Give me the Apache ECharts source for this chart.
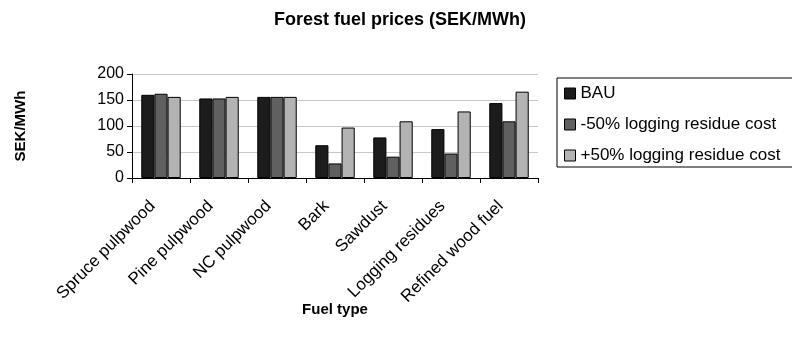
<!DOCTYPE html>
<html><head><meta charset="utf-8">
<script src="https://cdn.jsdelivr.net/npm/echarts@6/dist/echarts.min.js"></script>
<style>html,body{margin:0;padding:0;background:#fff}#c{width:792px;height:347px}</style>
</head><body><div id="c"></div>
<script>
const categories = ["Spruce pulpwood","Pine pulpwood","NC pulpwood","Bark","Sawdust","Logging residues","Refined wood fuel"];
const seriesNames = ["BAU","-50% logging residue cost","+50% logging residue cost"];
const bau = [160,153,156,63,78,94,144];
const minus50 = [162,153,156,28,41,47,109];
const plus50 = [156,156,156,97,109,128,166];
const yTicks = [0,50,100,150,200];

const colors = ["#1c1c1c","#606060","#b3b3b3"];
const font = "'Liberation Sans', Arial, sans-serif";
const chart = echarts.init(document.getElementById('c'));
const mk = (name, data, i) => ({
  name, type:'bar', data, barGap:'0%', barCategoryGap:'32%',
  itemStyle:{color:colors[i], borderColor:'#000', borderWidth:1},
  animation:false
});
chart.setOption({
  animation:false,
  title:{text:'Forest fuel prices (SEK/MWh)', left:395, top:6,
    textAlign:'center',
    textStyle:{fontFamily:font, fontSize:18, fontWeight:'bold', color:'#000'}},
  legend:{orient:'vertical', left:557, top:78, width:260,
    data:seriesNames, itemWidth:11, itemHeight:11, itemGap:14,
    icon:'rect', padding:[7,40,3,7],
    borderColor:'#000', borderWidth:1,
    textStyle:{fontFamily:font, fontSize:17, color:'#000', padding:[0,0,0,0]},
    itemStyle:{borderColor:'#000', borderWidth:1}},
  grid:{left:132, right:254, top:74, bottom:169},
  xAxis:{type:'category', data:categories,
    name:'Fuel type', nameLocation:'middle', nameGap:124, nameMoveOverlap:false,
    nameTextStyle:{fontFamily:font, fontSize:15, fontWeight:'bold', color:'#000'},
    axisLine:{lineStyle:{color:'#000'}},
    axisTick:{show:true, length:5, lineStyle:{color:'#000'}, alignWithLabel:false},
    axisLabel:{rotate:45, fontFamily:font, fontSize:17, color:'#000', margin:17, interval:0,
      padding:[0,12,0,0]}},
  yAxis:{type:'value', min:0, max:200, interval:50,
    name:'SEK/MWh', nameLocation:'middle', nameGap:104, nameRotate:90, nameMoveOverlap:false,
    nameTextStyle:{fontFamily:font, fontSize:15, fontWeight:'bold', color:'#000'},
    axisLine:{show:true, lineStyle:{color:'#000'}},
    axisTick:{show:true, length:5, lineStyle:{color:'#000'}},
    axisLabel:{fontFamily:font, fontSize:16, color:'#000', margin:8,
      formatter:v=>yTicks.includes(v)?String(v):''},
    splitLine:{show:true, lineStyle:{color:'#c8c8c8', width:1}}},
  series:[mk(seriesNames[0],bau,0), mk(seriesNames[1],minus50,1), mk(seriesNames[2],plus50,2)]
});
</script></body></html>
